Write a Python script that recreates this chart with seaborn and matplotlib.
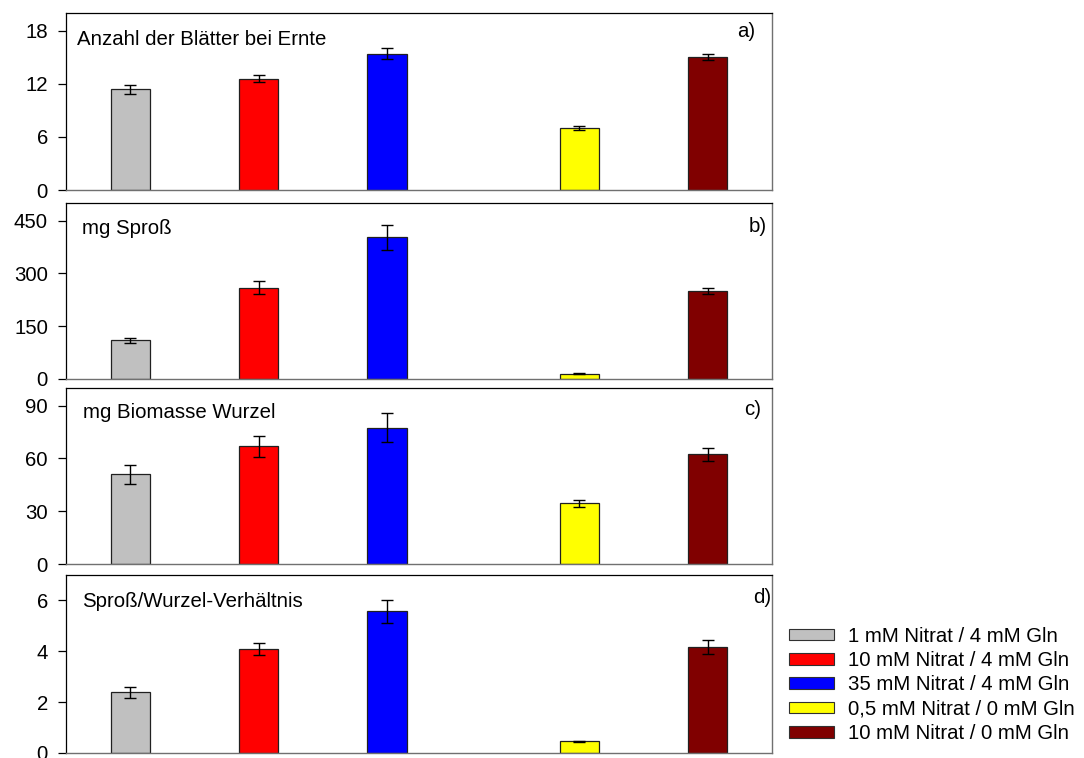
import matplotlib
matplotlib.use("Agg")
import matplotlib.pyplot as plt
from matplotlib.patches import Patch
import seaborn as sns
import pandas as pd
import numpy as np

sns.set_style("white")
plt.rcParams['font.family'] = ['Liberation Sans', 'DejaVu Sans']
plt.rcParams['text.color'] = 'black'
plt.rcParams['ytick.color'] = 'black'
plt.rcParams['ytick.labelcolor'] = 'black'

conditions = ["1 mM Nitrat / 4 mM Gln", "10 mM Nitrat / 4 mM Gln",
              "35 mM Nitrat / 4 mM Gln", "0,5 mM Nitrat / 0 mM Gln",
              "10 mM Nitrat / 0 mM Gln"]
colors = ["#C0C0C0", "#FF0000", "#0000FF", "#FFFF00", "#800000"]

blaetter = [11.4, 12.6, 15.4, 7.05, 15.0]
blaetter_err = [0.5, 0.37, 0.6, 0.22, 0.34]
spross = [109.5, 259.5, 402, 15, 250]
spross_err = [8, 17.5, 35, 2, 9.5]
wurzel = [51, 66.9, 77.5, 34.5, 62.4]
wurzel_err = [5.5, 5.9, 8.3, 2.0, 3.7]
verhaeltnis = [2.38, 4.08, 5.57, 0.46, 4.16]
verhaeltnis_err = [0.21, 0.24, 0.45, 0.03, 0.28]

titles = ["Anzahl der Blätter bei Ernte", "mg Sproß", "mg Biomasse Wurzel",
          "Sproß/Wurzel-Verhältnis"]
panel_labels = ["a)", "b)", "c)", "d)"]
yticks = [[0, 6, 12, 18], [0, 150, 300, 450], [0, 30, 60, 90], [0, 2, 4, 6]]
ylims = [20, 500, 100, 7]

# layout
xpos = [0, 1, 2, 3.5, 4.5]
axes_rects = [
    [0.0609, 0.7493, 0.6513, 0.2335],
    [0.0609, 0.5000, 0.6513, 0.2322],
    [0.0609, 0.2559, 0.6513, 0.2322],
    [0.0609, 0.0066, 0.6513, 0.2348],
]
title_pos = [(0.015, 0.819), (0.022, 0.824), (0.0236, 0.828), (0.023, 0.822)]
label_pos = [(0.976, 0.864), (0.9925, 0.837), (0.985, 0.847), (0.999, 0.843)]

FS = 14.7

fig = plt.figure(figsize=(10.84, 7.58), dpi=100)
series = [(blaetter, blaetter_err), (spross, spross_err),
          (wurzel, wurzel_err), (verhaeltnis, verhaeltnis_err)]

for i, ((vals, errs), rect) in enumerate(zip(series, axes_rects)):
    ax = fig.add_axes(rect)
    df = pd.DataFrame({"x": xpos, "value": vals, "cond": conditions})
    sns.barplot(data=df, x="x", y="value", hue="cond", hue_order=conditions,
                palette=colors, saturation=1, native_scale=True, width=0.305,
                edgecolor="#202020", linewidth=0.9, legend=False, ax=ax,
                errorbar=None)
    ax.errorbar(xpos, vals, yerr=errs, fmt="none", ecolor="black",
                elinewidth=1.0, capsize=4.5, capthick=1.0, zorder=5)
    ax.set_xlim(-0.5, 5.0)
    ax.set_ylim(0, ylims[i])
    ax.set_yticks(yticks[i])
    ax.set_xticks([])
    ax.set_xlabel("")
    ax.set_ylabel("")
    ax.tick_params(axis="y", direction="out", length=6, width=0.9,
                   labelsize=FS, color="black", labelcolor="black", pad=7,
                   left=True)
    for s in ["left", "top"]:
        ax.spines[s].set_color("black")
        ax.spines[s].set_linewidth(0.9)
    for s in ["right", "bottom"]:
        ax.spines[s].set_color("#707070")
        ax.spines[s].set_linewidth(1.0)
    ax.text(title_pos[i][0], title_pos[i][1], titles[i], transform=ax.transAxes,
            fontsize=FS, ha="left", va="baseline", color="black")
    ax.text(label_pos[i][0], label_pos[i][1], panel_labels[i],
            transform=ax.transAxes, fontsize=FS, ha="right", va="baseline",
            color="black")

handles = [Patch(facecolor=c, edgecolor="#303030", linewidth=0.8) for c in colors]
fig.legend(handles, conditions, loc="upper left",
           bbox_to_anchor=(0.728, 0.173), frameon=False, fontsize=FS,
           handlelength=2.2, handleheight=0.5, handletextpad=0.7,
           labelspacing=0.26, borderpad=0, borderaxespad=0,
           labelcolor="black")

fig.savefig("out.png", dpi=100)
